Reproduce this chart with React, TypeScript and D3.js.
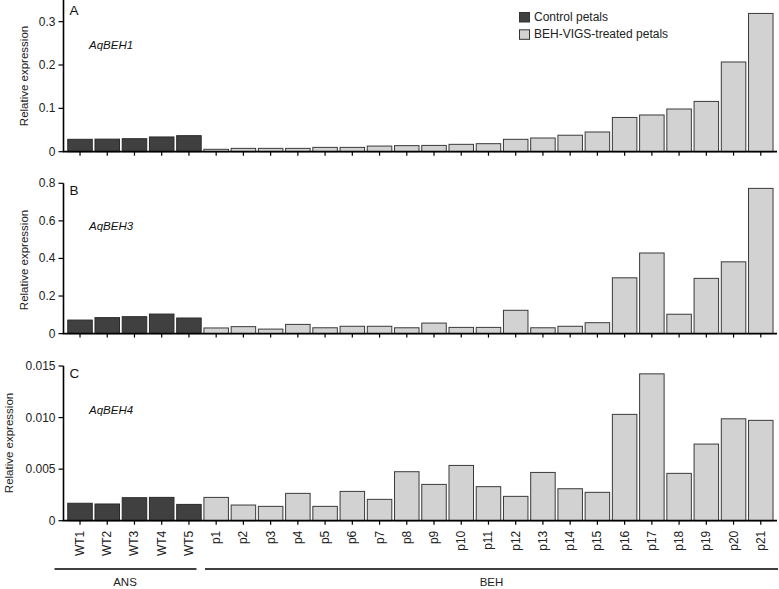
import React from "react";
import * as d3 from "d3";

const categories = ["WT1","WT2","WT3","WT4","WT5","p1","p2","p3","p4","p5","p6","p7","p8","p9","p10","p11","p12","p13","p14","p15","p16","p17","p18","p19","p20","p21"];
const controlCount = 5;

const beh1 = [0.0286,0.029,0.030,0.034,0.037,0.0055,0.0077,0.0077,0.0077,0.010,0.010,0.013,0.014,0.0145,0.017,0.0185,0.0286,0.0316,0.038,0.0455,0.079,0.0847,0.0985,0.116,0.207,0.319];
const beh3 = [0.072,0.085,0.090,0.104,0.083,0.030,0.037,0.024,0.049,0.031,0.039,0.039,0.031,0.056,0.033,0.033,0.124,0.031,0.039,0.058,0.297,0.429,0.103,0.294,0.382,0.773];
const beh4 = [0.00169,0.00162,0.00223,0.00226,0.00158,0.00226,0.00152,0.00139,0.00265,0.00139,0.00284,0.00207,0.00475,0.00352,0.00536,0.0033,0.00236,0.00468,0.0031,0.00275,0.01031,0.01424,0.00459,0.00743,0.00988,0.00973];

const ticksA = [0, 0.1, 0.2, 0.3];
const ticksB = [0, 0.2, 0.4, 0.6, 0.8];
const ticksC = [0, 0.005, 0.01, 0.015];
const tickLabelsA = ["0", "0.1", "0.2", "0.3"];
const tickLabelsB = ["0", "0.2", "0.4", "0.6", "0.8"];
const tickLabelsC = ["0", "0.005", "0.010", "0.015"];

const legendLabels = ["Control petals", "BEH-VIGS-treated petals"];
const groups = [
  { name: "ANS", x0: 54.5, x1: 196.5 },
  { name: "BEH", x0: 205, x1: 778 },
];

const FONT = "Arial, 'Liberation Sans', Helvetica, sans-serif";
const DARK = "#404040";
const LIGHT = "#d2d2d2";
const AXIS_X = 63.5;

const x = d3.scaleBand<string>().domain(categories).range([66.4, 774.4]).paddingInner(0.1).paddingOuter(0.05);

type PanelProps = {
  values: number[];
  domainMax: number;
  bottom: number;
  top: number;
  axisTop: number;
  ticks: number[];
  tickLabels: string[];
  letter: string;
  letterY: number;
  gene: string;
  geneY: number;
  labelX: number;
  labelY: number;
  showLabels: boolean;
};

function Panel({ values, domainMax, bottom, top, axisTop, ticks, tickLabels, letter, letterY, gene, geneY, labelX, labelY, showLabels }: PanelProps) {
  const y = d3.scaleLinear().domain([0, domainMax]).range([bottom, top]);
  const bw = x.bandwidth();
  return (
    <g>
      {values.map((v, i) => (
        <rect
          key={i}
          x={x(categories[i])!}
          y={y(v)}
          width={bw}
          height={bottom - y(v)}
          fill={i < controlCount ? DARK : LIGHT}
          stroke={i < controlCount ? "#2a2a2a" : "#3a3a3a"}
          strokeWidth={1}
        />
      ))}
      <line x1={AXIS_X} x2={AXIS_X} y1={axisTop} y2={bottom} stroke="#000" strokeWidth={1.6} />
      {ticks.map((t, i) => (
        <g key={i}>
          <line x1={AXIS_X - 5} x2={AXIS_X} y1={y(t)} y2={y(t)} stroke="#000" strokeWidth={1.2} />
          <text x={AXIS_X - 8} y={y(t) + 4} textAnchor="end" fontSize={12} fontFamily={FONT} fill="#222">
            {tickLabels[i]}
          </text>
        </g>
      ))}
      <line x1={AXIS_X - 0.8} x2={777} y1={bottom} y2={bottom} stroke="#000" strokeWidth={1.8} />
      {categories.map((c) => {
        const cx = x(c)! + bw / 2;
        return (
          <g key={c}>
            <line x1={cx} x2={cx} y1={bottom} y2={bottom + 4} stroke="#000" strokeWidth={1.2} />
            {showLabels && (
              <text
                transform={`translate(${cx + 4},${bottom + 10}) rotate(-90)`}
                textAnchor="end"
                fontSize={12}
                fontFamily={FONT}
                fill="#222"
              >
                {c}
              </text>
            )}
          </g>
        );
      })}
      <text x={69.5} y={letterY} fontSize={13.5} fontFamily={FONT} fill="#111">
        {letter}
      </text>
      <text x={89} y={geneY} fontSize={11.5} fontStyle="italic" fontFamily={FONT} fill="#111">
        {gene}
      </text>
      <text
        transform={`translate(${labelX},${labelY}) rotate(-90)`}
        textAnchor="middle"
        fontSize={11.5}
        fontFamily={FONT}
        fill="#222"
      >
        Relative expression
      </text>
    </g>
  );
}

export default function App() {
  return (
    <svg width={779} height={589} style={{ position: "absolute", left: 0, top: 0, background: "#fff" }}>
      <rect width={779} height={589} fill="#fff" />
      <Panel values={beh1} domainMax={0.35} bottom={151.7} top={0} axisTop={0} ticks={ticksA} tickLabels={tickLabelsA}
        letter="A" letterY={15} gene="AqBEH1" geneY={49} labelX={27.5} labelY={76} showLabels={false} />
      <Panel values={beh3} domainMax={0.8} bottom={333.6} top={183.3} axisTop={183.3} ticks={ticksB} tickLabels={tickLabelsB}
        letter="B" letterY={195} gene="AqBEH3" geneY={229.5} labelX={27.5} labelY={260} showLabels={false} />
      <Panel values={beh4} domainMax={0.015} bottom={520.7} top={366} axisTop={366} ticks={ticksC} tickLabels={tickLabelsC}
        letter="C" letterY={378} gene="AqBEH4" geneY={414} labelX={12.5} labelY={443} showLabels={true} />
      {legendLabels.map((l, i) => (
        <g key={l}>
          <rect x={519.5} y={12.5 + i * 17.3} width={10} height={9.5} fill={i === 0 ? DARK : LIGHT} stroke="#333" strokeWidth={1} />
          <text x={534} y={21 + i * 17} fontSize={12} fontFamily={FONT} fill="#222">
            {l}
          </text>
        </g>
      ))}
      {groups.map((g) => (
        <g key={g.name}>
          <line x1={g.x0} x2={g.x1} y1={569} y2={569} stroke="#000" strokeWidth={1.6} />
          <text x={g.name === "ANS" ? 125 : 491.5} y={586} textAnchor="middle" fontSize={11.5} fontFamily={FONT} fill="#222">
            {g.name}
          </text>
        </g>
      ))}
    </svg>
  );
}
